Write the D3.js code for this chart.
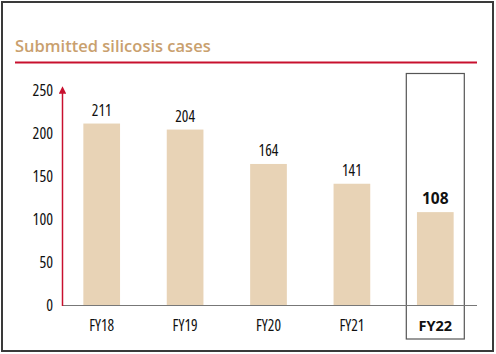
<!DOCTYPE html>
<html>
<head>
<meta charset="utf-8">
<script src="https://cdn.jsdelivr.net/npm/d3@7"></script>
<style>
  body { margin: 0; background: #fff; }
  text { font-family: "Open Sans", sans-serif; font-stretch: 87.5%; }
  text.wide { font-stretch: 100%; }
</style>
</head>
<body>
<div id="chart"></div>
<script>
const categories = ["FY18", "FY19", "FY20", "FY21", "FY22"]
const cases = [211, 204, 164, 141, 108]
const yTicks = [0, 50, 100, 150, 200, 250]
const title = "Submitted silicosis cases"
const highlight = "FY22"

const width = 496, height = 354
const barColor = "#e8d3b6"
const red = "#c8102e"

const svg = d3.select("#chart").append("svg")
  .attr("width", width)
  .attr("height", height)

// outer frame
svg.append("rect")
  .attr("x", 2).attr("y", 2)
  .attr("width", 491).attr("height", 349)
  .attr("fill", "none")
  .attr("stroke", "#3a3a3a")
  .attr("stroke-width", 2)

svg.append("text")
  .attr("class", "wide")
  .attr("x", 15).attr("y", 52)
  .attr("fill", "#c9a06e")
  .attr("font-size", 16.5)
  .attr("font-weight", 600)
  .text(title)

svg.append("line")
  .attr("x1", 15).attr("x2", 477)
  .attr("y1", 62.5).attr("y2", 62.5)
  .attr("stroke", red)
  .attr("stroke-width", 2)

const x = d3.scaleBand()
  .domain(categories)
  .range([60, 477])
  .paddingInner(0.56)
  .paddingOuter(0.28)

const y = d3.scaleLinear()
  .domain([0, 250])
  .range([305, 90])

// highlight box
svg.append("rect")
  .attr("x", x(highlight) + x.bandwidth() / 2 - 29)
  .attr("y", 73.5)
  .attr("width", 58)
  .attr("height", 265.5)
  .attr("fill", "none")
  .attr("stroke", "#555")
  .attr("stroke-width", 1.2)

svg.selectAll("rect.bar")
  .data(categories)
  .join("rect")
  .attr("class", "bar")
  .attr("x", d => x(d))
  .attr("width", x.bandwidth())
  .attr("y", (d, i) => y(cases[i]))
  .attr("height", (d, i) => y(0) - y(cases[i]))
  .attr("fill", barColor)

// baseline
svg.append("line")
  .attr("x1", 62).attr("x2", 477)
  .attr("y1", y(0) + 0.5).attr("y2", y(0) + 0.5)
  .attr("stroke", "#777")
  .attr("stroke-width", 1)

// y axis with arrow
svg.append("defs").append("marker")
  .attr("id", "arrow")
  .attr("viewBox", "0 0 10 10")
  .attr("refX", 5).attr("refY", 5)
  .attr("markerWidth", 5).attr("markerHeight", 5)
  .attr("orient", "auto")
  .append("path")
  .attr("d", "M0,0L10,5L0,10Z")
  .attr("fill", red)

svg.append("line")
  .attr("x1", 62.5).attr("x2", 62.5)
  .attr("y1", y(0) + 1).attr("y2", 90)
  .attr("stroke", red)
  .attr("stroke-width", 1.5)
  .attr("marker-end", "url(#arrow)")

svg.selectAll("text.ytick")
  .data(yTicks)
  .join("text")
  .attr("class", "ytick")
  .attr("x", 53)
  .attr("y", d => y(d))
  .attr("dy", "0.35em")
  .attr("text-anchor", "end")
  .attr("font-size", 16)
  .attr("fill", "#111")
  .text(d => d)

svg.selectAll("text.val")
  .data(categories)
  .join("text")
  .attr("class", d => d === highlight ? "val wide" : "val")
  .attr("x", d => x(d) + x.bandwidth() / 2)
  .attr("y", (d, i) => y(cases[i]) - 8)
  .attr("text-anchor", "middle")
  .attr("font-size", 15.5)
  .attr("font-weight", d => d === highlight ? 700 : 400)
  .attr("fill", "#111")
  .text((d, i) => cases[i])

svg.selectAll("text.cat")
  .data(categories)
  .join("text")
  .attr("class", d => d === highlight ? "cat wide" : "cat")
  .attr("x", d => x(d) + x.bandwidth() / 2)
  .attr("y", 331)
  .attr("text-anchor", "middle")
  .attr("font-size", d => d === highlight ? 14.5 : 15.5)
  .attr("font-weight", d => d === highlight ? 700 : 400)
  .attr("fill", "#111")
  .text(d => d)
</script>
</body>
</html>
